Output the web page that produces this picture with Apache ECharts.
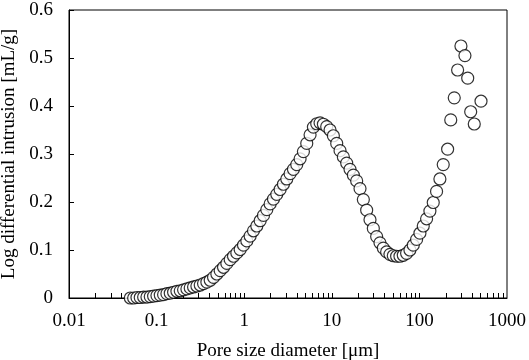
<!DOCTYPE html>
<html>
<head>
<meta charset="utf-8">
<script src="https://cdn.jsdelivr.net/npm/echarts@6/dist/echarts.min.js"></script>
<style>
  html, body { margin: 0; padding: 0; background: #fff; }
  #chart { width: 529px; height: 360px; }
</style>
</head>
<body>
<div id="chart"></div>
<script>
// pore size diameter [um]
var poreSize = [
  0.0501, 0.0547, 0.0597, 0.0651, 0.0711, 0.0776, 0.0847, 0.0924, 0.1009, 0.1101,
  0.1202, 0.1312, 0.1432, 0.1563, 0.1706, 0.1862, 0.2032, 0.2218, 0.2421, 0.2642,
  0.2884, 0.3148, 0.3436, 0.375, 0.4093, 0.4467, 0.4875, 0.5321, 0.5808, 0.6339,
  0.6918, 0.7551, 0.8241, 0.8995, 0.9817, 1.072, 1.169, 1.276, 1.393, 1.521,
  1.66, 1.811, 1.977, 2.158, 2.355, 2.57, 2.805, 3.062, 3.342, 3.648,
  3.981, 4.345, 4.742, 5.176, 5.649, 6.166, 6.73, 7.345, 8.017, 8.75,
  9.55, 10.42, 11.38, 12.42, 13.55, 14.79, 16.14, 17.62, 19.23, 20.99,
  22.91, 25.0, 27.29, 29.79, 32.51, 35.48, 38.73, 42.27, 46.13, 50.35,
  54.95, 59.98, 65.46, 71.45, 77.98, 85.11, 92.9, 101.4, 110.7, 120.8,
  131.8, 143.9, 157.0, 171.4, 187.1, 210, 228, 250, 273, 298,
  331, 356, 385, 423, 505
];
// log differential intrusion [mL/g]
var intrusion = [
  0.000, 0.000, 0.001, 0.001, 0.002, 0.002, 0.003, 0.004, 0.005, 0.006,
  0.007, 0.009, 0.010, 0.012, 0.014, 0.015, 0.017, 0.019, 0.021, 0.023,
  0.025, 0.027, 0.030, 0.033, 0.037, 0.043, 0.050, 0.057, 0.064, 0.072,
  0.080, 0.087, 0.094, 0.101, 0.110, 0.119, 0.129, 0.140, 0.150, 0.161,
  0.172, 0.184, 0.196, 0.206, 0.216, 0.226, 0.237, 0.248, 0.259, 0.268,
  0.278, 0.290, 0.305, 0.322, 0.340, 0.356, 0.363, 0.365, 0.362, 0.357,
  0.350, 0.338, 0.322, 0.307, 0.294, 0.281, 0.268, 0.256, 0.244, 0.228,
  0.205, 0.183, 0.163, 0.145, 0.128, 0.115, 0.104, 0.096, 0.091, 0.088,
  0.087, 0.087, 0.089, 0.093, 0.100, 0.110, 0.122, 0.135, 0.150, 0.165,
  0.181, 0.199, 0.222, 0.248, 0.278, 0.310, 0.371, 0.417, 0.475, 0.525,
  0.505, 0.458, 0.388, 0.3625, 0.410
];
var xTicks = [
  0.02, 0.03, 0.04, 0.05, 0.06, 0.07, 0.08, 0.09, 0.1,
  0.2, 0.3, 0.4, 0.5, 0.6, 0.7, 0.8, 0.9, 1,
  2, 3, 4, 5, 6, 7, 8, 9, 10,
  20, 30, 40, 50, 60, 70, 80, 90, 100,
  200, 300, 400, 500, 600, 700, 800, 900
];

var points = [];
for (var i = 0; i < poreSize.length; i++) {
  points.push([poreSize[i], intrusion[i]]);
}

var font = 'Liberation Serif';
var chart = echarts.init(document.getElementById('chart'));
chart.setOption({
  animation: false,
  backgroundColor: '#fff',
  grid: {
    left: 69, right: 22, top: 10, bottom: 62,
    outerBoundsMode: 'none',
    containLabel: false,
    show: true, borderColor: '#000', borderWidth: 1
  },
  xAxis: {
    type: 'log',
    logBase: 10,
    min: 0.01,
    max: 1000,
    name: 'Pore size diameter [μm]',
    nameLocation: 'middle',
    nameGap: 44,
    nameTextStyle: { fontFamily: font, fontSize: 19, color: '#000' },
    axisLine: { lineStyle: { color: '#000', width: 1 } },
    axisTick: {
      inside: true, length: 5, customValues: xTicks,
      lineStyle: { color: '#000' }
    },
    axisLabel: {
      fontFamily: font, fontSize: 19, color: '#000', margin: 14,
      formatter: function (v) { return String(v); }
    },
    splitLine: { show: false }
  },
  yAxis: {
    type: 'value',
    min: 0,
    max: 0.6,
    interval: 0.1,
    name: 'Log differential intrusion [mL/g]',
    nameLocation: 'middle',
    nameGap: 49,
    nameTextStyle: { fontFamily: font, fontSize: 19, color: '#000' },
    axisLine: { show: true, lineStyle: { color: '#000', width: 1 } },
    axisTick: { show: true, inside: true, length: 5, lineStyle: { color: '#000' } },
    axisLabel: { fontFamily: font, fontSize: 19, color: '#000', margin: 16 },
    splitLine: { show: false }
  },
  series: [{
    type: 'scatter',
    data: points,
    symbol: 'circle',
    symbolSize: 12,
    itemStyle: { color: '#fff', borderColor: '#000', borderWidth: 1.2 }
  }]
});
</script>
</body>
</html>
